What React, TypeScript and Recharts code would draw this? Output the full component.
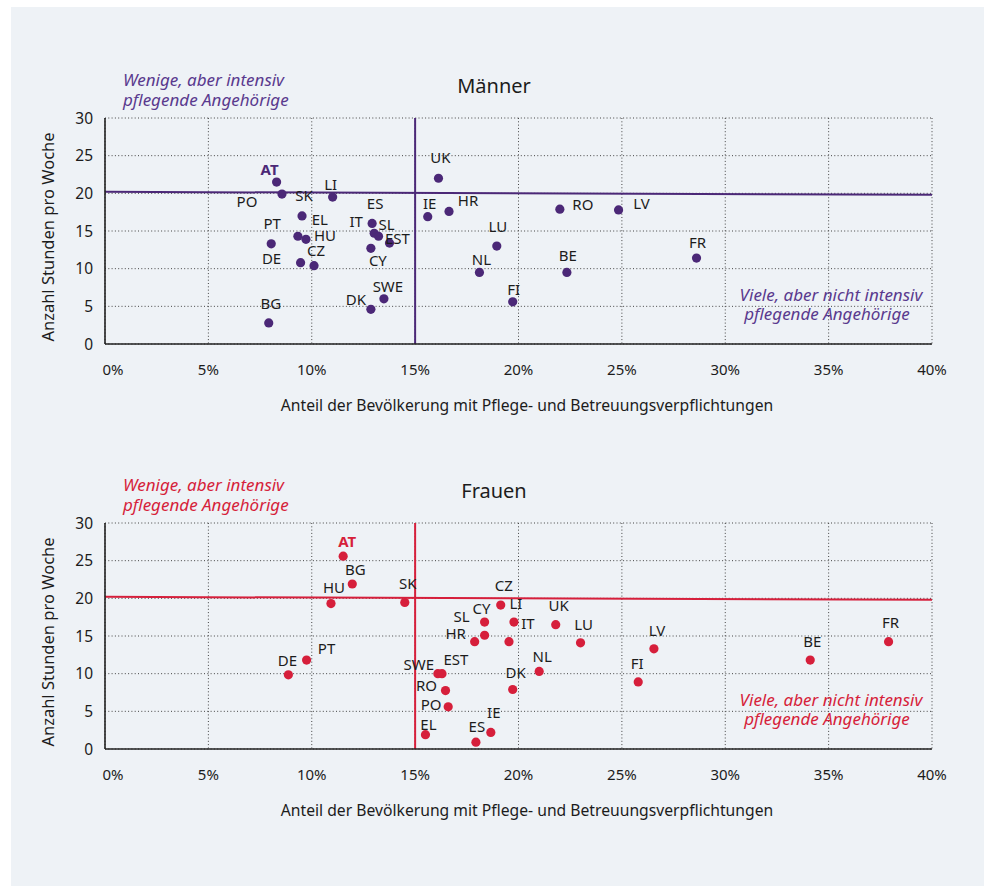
import React from 'react';
import { ScatterChart, Scatter, XAxis, YAxis, CartesianGrid, ReferenceLine } from 'recharts';

const xTicks = [0, 5, 10, 15, 20, 25, 30, 35, 40];
const yTicks = [0, 5, 10, 15, 20, 25, 30];

const menCountries = ['AT', 'PO', 'SK', 'EL', 'HU', 'PT', 'DE', 'CZ', 'BG', 'LI', 'ES', 'IT', 'SL', 'EST', 'CY', 'SWE', 'DK', 'UK', 'IE', 'HR', 'LU', 'NL', 'FI', 'RO', 'LV', 'BE', 'FR'];
const menShare = [8.3, 8.56, 9.53, 9.33, 9.72, 8.04, 9.46, 10.11, 7.92, 11.01, 12.92, 13.02, 13.23, 13.76, 12.86, 13.49, 12.86, 16.13, 15.61, 16.64, 18.95, 18.11, 19.72, 22.0, 24.84, 22.34, 28.61];
const menHours = [21.5, 19.9, 17.0, 14.3, 13.9, 13.3, 10.8, 10.4, 2.8, 19.5, 16.0, 14.7, 14.3, 13.4, 12.7, 6.0, 4.6, 22.0, 16.9, 17.6, 13.0, 9.5, 5.6, 17.9, 17.8, 9.5, 11.4];

const womenCountries = ['AT', 'BG', 'HU', 'SK', 'CZ', 'CY', 'LI', 'SL', 'HR', 'IT', 'UK', 'LU', 'PT', 'DE', 'SWE', 'EST', 'RO', 'PO', 'EL', 'ES', 'IE', 'DK', 'NL', 'FI', 'LV', 'BE', 'FR'];
const womenShare = [11.52, 11.96, 10.93, 14.5, 19.14, 18.36, 19.78, 18.36, 17.88, 19.54, 21.8, 23.0, 9.75, 8.87, 16.1, 16.3, 16.47, 16.6, 15.5, 17.94, 18.66, 19.72, 21.0, 25.79, 26.55, 34.11, 37.9];
const womenHours = [25.6, 21.9, 19.3, 19.45, 19.1, 16.85, 16.85, 15.1, 14.25, 14.25, 16.5, 14.1, 11.8, 9.85, 10.0, 10.0, 7.75, 5.6, 1.9, 0.9, 2.2, 7.9, 10.3, 8.9, 13.3, 11.8, 14.25];

const thresholdShare = 15;
const thresholdHoursStart = 20.2;
const thresholdHoursEnd = 19.8;

const menLabelOffset: Record<string, [number, number]> = {
  AT: [-7, -13], PO: [-35, 7], SK: [2, -21], EL: [22, -17], HU: [19, -4], PT: [1, -21], DE: [-29, -5],
  CZ: [2, -16], BG: [2, -20], LI: [-2, -13], ES: [3, -20], IT: [-18, -12], SL: [8, -12], EST: [8, -5],
  CY: [7, 12], SWE: [4, -13], DK: [-15, -10], UK: [2, -21], IE: [2, -14], HR: [19, -11], LU: [1, -20],
  NL: [2, -13], FI: [1, -13], RO: [23, -5], LV: [23, -7], BE: [1, -17], FR: [1, -16],
};
const womenLabelOffset: Record<string, [number, number]> = {
  AT: [4, -15], BG: [3, -15], HU: [3, -17], SK: [3, -19], CZ: [3, -20], CY: [-3, -14], LI: [2, -19],
  SL: [-23, -19], HR: [-19, -9], IT: [19, -19], UK: [3, -20], LU: [3, -19], PT: [20, -12], DE: [-1, -15],
  SWE: [-19, -10], EST: [14, -15], RO: [-19, -6], PO: [-17, -3], EL: [3, -11], ES: [1, -16], IE: [3, -20],
  DK: [3, -17], NL: [3, -15], FI: [-1, -19], LV: [3, -19], BE: [2, -19], FR: [2, -20],
};

const FONT = '"Noto Sans", Lato, sans-serif';
const PURPLE = '#4b2877';
const PURPLE_TEXT = '#5a3a8e';
const RED = '#d61f3b';
const TEXT = '#1c1c1c';

function build(countries: string[], share: number[], hours: number[]) {
  return countries.map((c, i) => ({ country: c, share: share[i], hours: hours[i] }));
}

const XTick = (props: any) => {
  const { x, y, payload } = props;
  const shift = payload.value === 0 ? 8 : 0;
  return (
    <text x={x + shift} y={y} dy="0.71em" textAnchor="middle" fontSize={15} fontFamily={FONT} fill={TEXT}>
      {`${payload.value}%`}
    </text>
  );
};

function Panel({ data, color, offsets, top }: { data: any[]; color: string; offsets: Record<string, [number, number]>; top: number }) {
  const shape = (p: any) => {
    const { cx, cy, payload } = p;
    const off = offsets[payload.country] || [0, -15];
    const isAT = payload.country === 'AT';
    return (
      <g>
        <circle cx={cx} cy={cy} r={4.6} fill={color} />
        <text
          x={cx + off[0]}
          y={cy + off[1]}
          textAnchor="middle"
          dominantBaseline="central"
          fontSize={15}
          fontFamily={FONT}
          fontWeight={isAT ? 700 : 400}
          fill={isAT ? color : TEXT}
        >
          {payload.country}
        </text>
      </g>
    );
  };
  return (
    <div style={{ position: 'absolute', left: 0, top }}>
      <ScatterChart width={984} height={430} margin={{ top: 118, right: 52, left: 55, bottom: 46 }}>
        <CartesianGrid stroke="#444" strokeDasharray="1 2.3" strokeWidth={1} />
        <XAxis
          type="number"
          dataKey="share"
          domain={[0, 40]}
          ticks={xTicks}
          interval={0}
          tickLine={false}
          tickSize={6}
          tickMargin={14}
          height={40}
          axisLine={{ stroke: '#222', strokeWidth: 1.6 }}
          tick={<XTick />}
        />
        <YAxis
          type="number"
          dataKey="hours"
          domain={[0, 30]}
          ticks={yTicks}
          interval={0}
          width={50}
          tickLine={false}
          tickSize={6}
          tickMargin={6}
          axisLine={{ stroke: '#222', strokeWidth: 1.6 }}
          tick={{ fontSize: 15.5, fontFamily: FONT, fill: TEXT }}
        />
        <ReferenceLine x={thresholdShare} stroke={color} strokeWidth={2} />
        <ReferenceLine
          segment={[
            { x: 0, y: thresholdHoursStart },
            { x: 40, y: thresholdHoursEnd },
          ]}
          stroke={color}
          strokeWidth={2}
        />
        <Scatter data={data} shape={shape} isAnimationActive={false} />
      </ScatterChart>
    </div>
  );
}

function Overlay({ top, title, color, yLabelY }: { top: number; title: string; color: string; yLabelY: number }) {
  const t = { fontFamily: FONT };
  return (
    <svg width={984} height={430} style={{ position: 'absolute', left: 0, top, pointerEvents: 'none' }}>
      <text x={494} y={85} textAnchor="middle" dominantBaseline="central" fontSize={20} fill={TEXT} {...t}>
        {title}
      </text>
      <text x={123} y={79} dominantBaseline="central" fontSize={17} fontStyle="italic" fill={color} {...t}>
        Wenige, aber intensiv
      </text>
      <text x={123} y={99} dominantBaseline="central" fontSize={17} fontStyle="italic" fill={color} {...t}>
        pflegende Angehörige
      </text>
      <text x={831} y={294} textAnchor="middle" dominantBaseline="central" fontSize={17} fontStyle="italic" fill={color} {...t}>
        Viele, aber nicht intensiv
      </text>
      <text x={827} y={313} textAnchor="middle" dominantBaseline="central" fontSize={17} fontStyle="italic" fill={color} {...t}>
        pflegende Angehörige
      </text>
      <text
        x={47}
        y={yLabelY}
        textAnchor="middle"
        dominantBaseline="central"
        fontSize={16.5}
        fill={TEXT}
        transform={`rotate(-90 47 ${yLabelY})`}
        {...t}
      >
        Anzahl Stunden pro Woche
      </text>
      <text x={527} y={405} textAnchor="middle" dominantBaseline="central" fontSize={15.7} fill={TEXT} {...t}>
        Anteil der Bevölkerung mit Pflege- und Betreuungsverpflichtungen
      </text>
    </svg>
  );
}

export default function App() {
  const menData = build(menCountries, menShare, menHours);
  const womenData = build(womenCountries, womenShare, womenHours);
  return (
    <div style={{ position: 'absolute', left: 0, top: 0, width: 984, height: 886, background: '#ffffff', overflow: 'hidden' }}>
      <div style={{ position: 'absolute', left: 11, top: 7, width: 973, height: 879, background: '#eef2f6' }} />
      <Panel data={menData} color={PURPLE} offsets={menLabelOffset} top={0} />
      <Overlay top={0} title="Männer" color={PURPLE_TEXT} yLabelY={237} />
      <Panel data={womenData} color={RED} offsets={womenLabelOffset} top={405} />
      <Overlay top={405} title="Frauen" color={RED} yLabelY={237} />
    </div>
  );
}
